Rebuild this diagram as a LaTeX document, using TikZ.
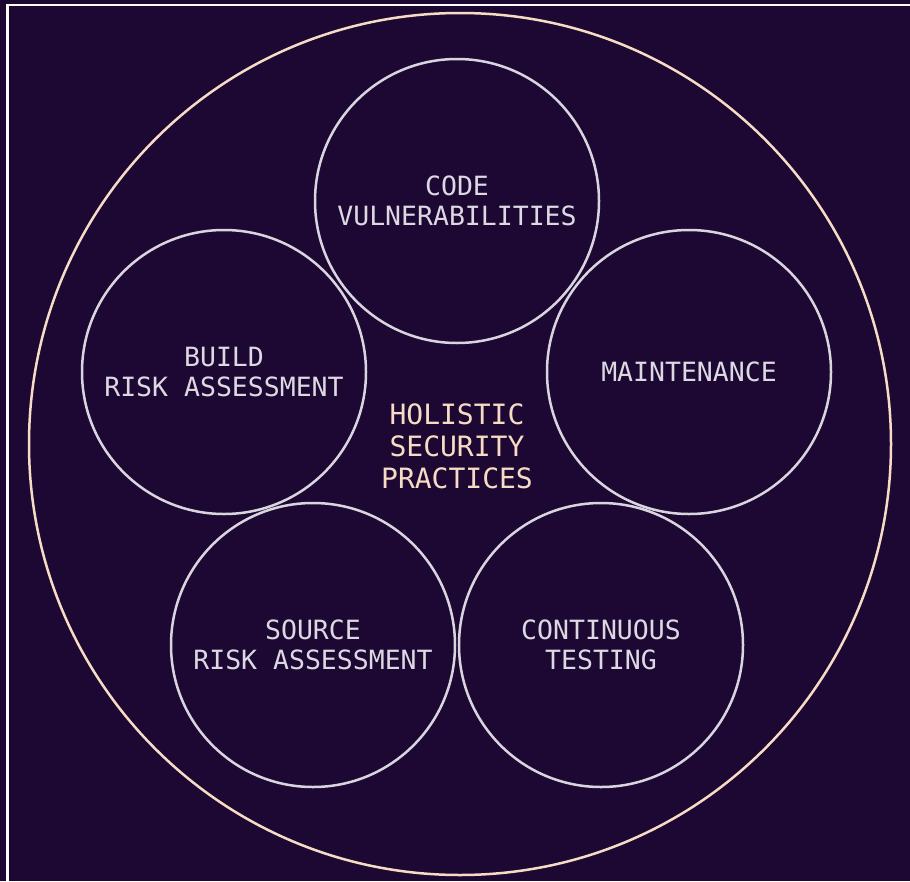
\documentclass[tikz,border=0pt]{standalone}
\usepackage{fontspec}
\setmonofont{DejaVu Sans Mono}
\usepackage{tikz}

\definecolor{bgpurple}{HTML}{1D0833}
\definecolor{cream}{HTML}{F6DCC4}
\definecolor{ringgray}{HTML}{D9D5DE}
\definecolor{labelgray}{HTML}{DDD9E2}

\tikzset{
    ring/.style={circle,draw=ringgray,line width=2.5pt,minimum size=284pt,inner sep=0pt,
        text=labelgray,align=center,font=\ttfamily\fontsize{26.5}{30}\selectfont},
    hub/.style={text=cream,align=center,font=\ttfamily\fontsize{28}{32}\selectfont}
}

\begin{document}
\begin{tikzpicture}[x=1pt,y=-1pt]
    % Background and frame edge
    \fill[bgpurple] (0,0) rectangle (910,881);
    \useasboundingbox (0,0) rectangle (910,881);
    \draw[white,line width=2.5pt] (7.5,881) -- (7.5,5) -- (910,5);

    % Outer circle with the practices in the middle
    \node[circle,draw=cream,line width=2.5pt,minimum size=862pt,inner sep=0pt] (outer) at (460,444) {};
    \node[hub] (holistic) at (457,446) {HOLISTIC\\SECURITY\\PRACTICES};

    % Five circles round the centre
    \node[ring] (code) at (457,201) {CODE\\VULNERABILITIES};
    \node[ring] (build) at (224,372) {BUILD\\RISK ASSESSMENT};
    \node[ring] (maint) at (689,372) {MAINTENANCE};
    \node[ring] (source) at (313,645) {SOURCE\\RISK ASSESSMENT};
    \node[ring] (testing) at (601,645) {CONTINUOUS\\TESTING};
\end{tikzpicture}
\end{document}
